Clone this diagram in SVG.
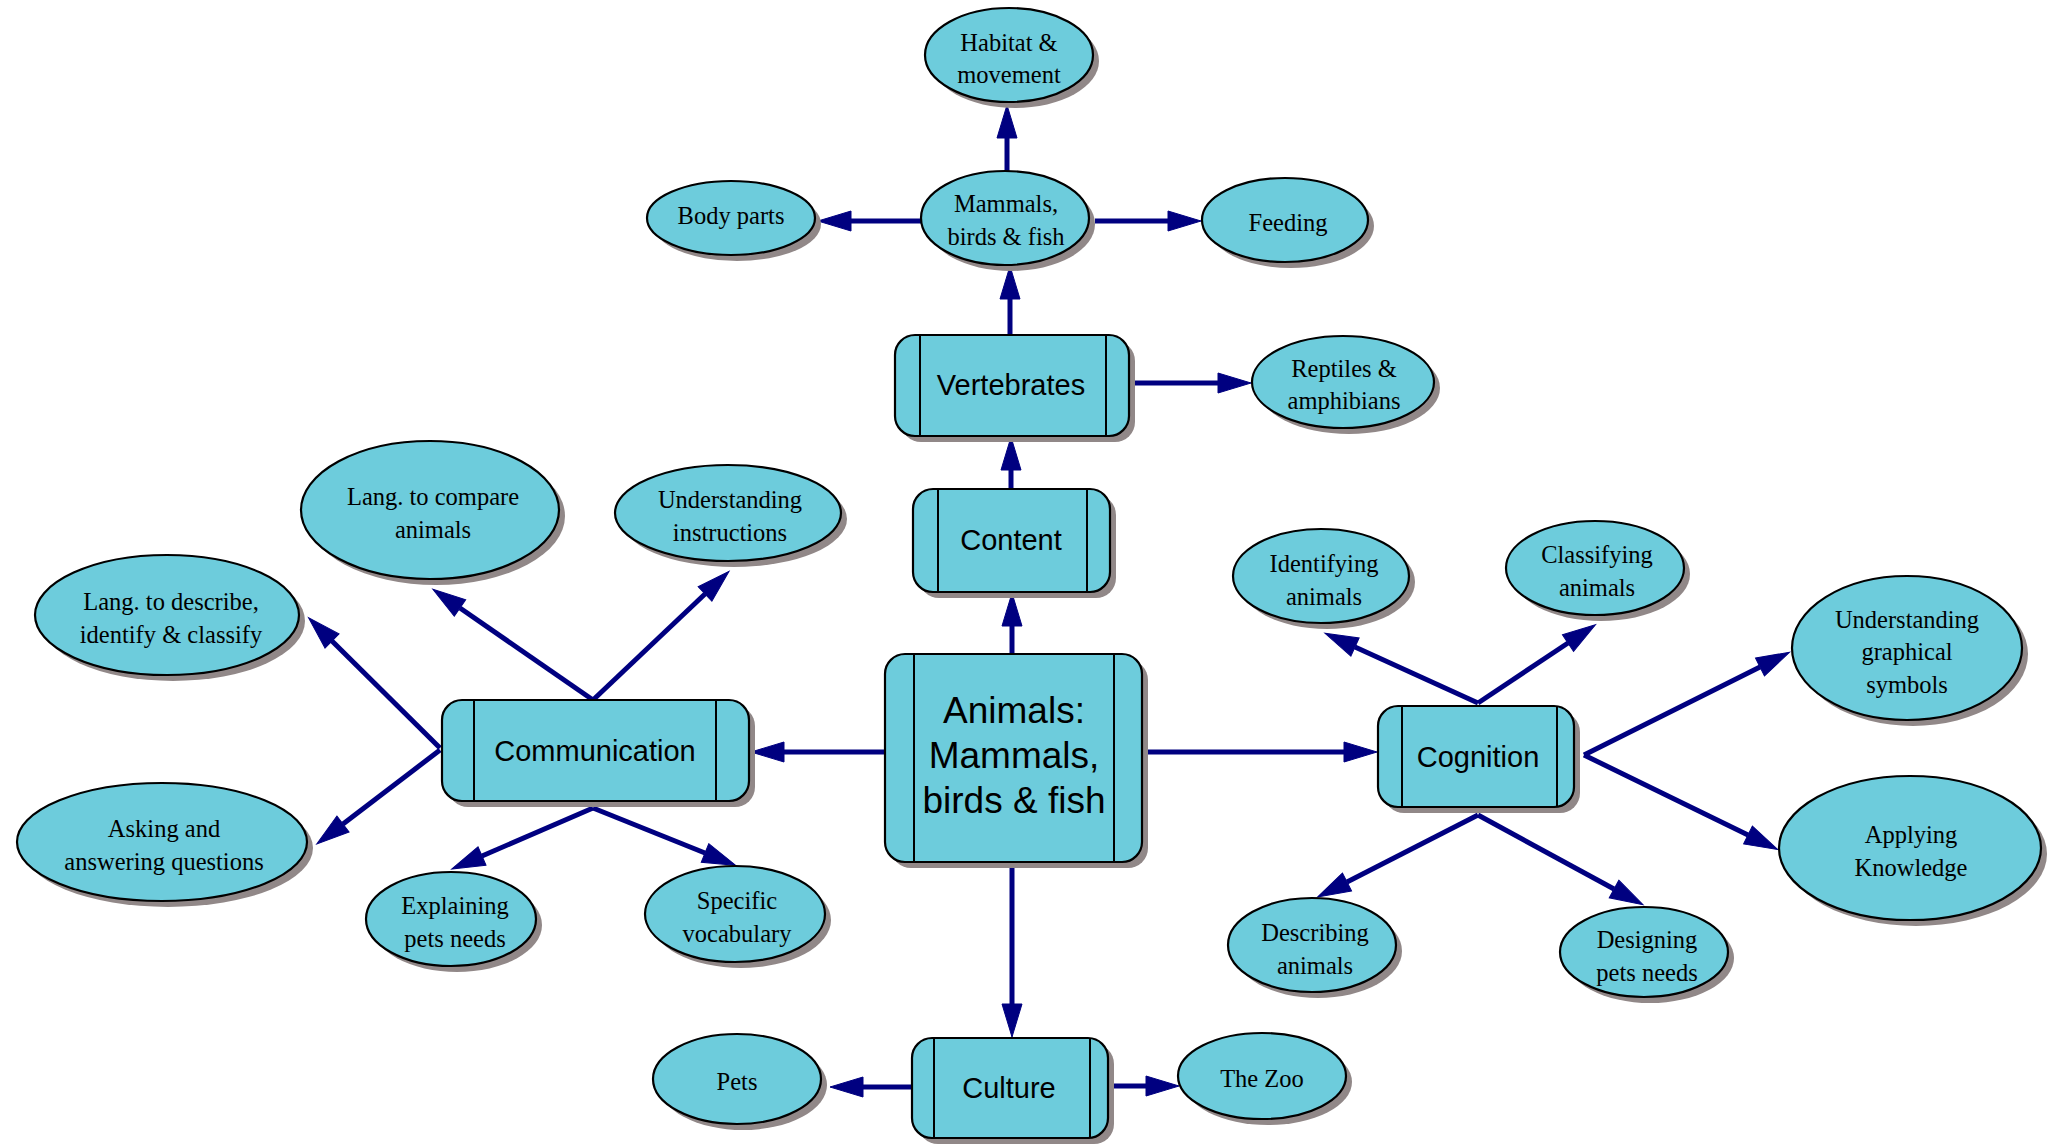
<svg xmlns="http://www.w3.org/2000/svg" width="2052" height="1145" viewBox="0 0 2052 1145">
<style>
.sh{fill:#918888;stroke:none}
.nd{fill:#6dccdc;stroke:#000;stroke-width:2.2}
.ln{stroke:#000;stroke-width:2}
.bt{font-family:"Liberation Sans",Arial,sans-serif;font-size:29px;fill:#000;text-anchor:middle}
.mt{font-family:"Liberation Sans",Arial,sans-serif;font-size:37px;fill:#000;text-anchor:middle}
.et{font-family:"Liberation Serif","Times New Roman",serif;font-size:24.5px;fill:#000;text-anchor:middle}
.e{stroke:#000080;stroke-width:5;fill:none}
</style>
<defs>
<marker id="ah" markerUnits="userSpaceOnUse" markerWidth="36" markerHeight="24" refX="1" refY="12" orient="auto">
<path d="M1,2 L34,12 L1,22 z" fill="#000080" stroke="#000080" stroke-width="1"/>
</marker>
</defs>
<g id="connectors">
<line class="e" x1="1012" y1="654" x2="1012" y2="626" marker-end="url(#ah)"/>
<line class="e" x1="1011" y1="489" x2="1011" y2="470" marker-end="url(#ah)"/>
<line class="e" x1="1010" y1="335" x2="1010" y2="299" marker-end="url(#ah)"/>
<line class="e" x1="1007" y1="171" x2="1007" y2="138" marker-end="url(#ah)"/>
<line class="e" x1="1095" y1="221" x2="1168" y2="221" marker-end="url(#ah)"/>
<line class="e" x1="921" y1="221" x2="851" y2="221" marker-end="url(#ah)"/>
<line class="e" x1="1135" y1="383" x2="1218" y2="383" marker-end="url(#ah)"/>
<line class="e" x1="885" y1="752" x2="784" y2="752" marker-end="url(#ah)"/>
<line class="e" x1="1148" y1="752" x2="1344" y2="752" marker-end="url(#ah)"/>
<line class="e" x1="1012" y1="868" x2="1012" y2="1004" marker-end="url(#ah)"/>
<line class="e" x1="912" y1="1087" x2="863" y2="1087" marker-end="url(#ah)"/>
<line class="e" x1="1113" y1="1086" x2="1146" y2="1086" marker-end="url(#ah)"/>
<line class="e" x1="593" y1="700" x2="460" y2="608" marker-end="url(#ah)"/>
<line class="e" x1="593" y1="700" x2="705" y2="594" marker-end="url(#ah)"/>
<line class="e" x1="440" y1="748" x2="332" y2="641" marker-end="url(#ah)"/>
<line class="e" x1="440" y1="750" x2="343" y2="824" marker-end="url(#ah)"/>
<line class="e" x1="593" y1="808" x2="482" y2="856" marker-end="url(#ah)"/>
<line class="e" x1="593" y1="808" x2="705" y2="853" marker-end="url(#ah)"/>
<line class="e" x1="1478" y1="703" x2="1355" y2="647" marker-end="url(#ah)"/>
<line class="e" x1="1478" y1="703" x2="1568" y2="643" marker-end="url(#ah)"/>
<line class="e" x1="1584" y1="755" x2="1760" y2="667" marker-end="url(#ah)"/>
<line class="e" x1="1584" y1="755" x2="1748" y2="835" marker-end="url(#ah)"/>
<line class="e" x1="1478" y1="815" x2="1347" y2="882" marker-end="url(#ah)"/>
<line class="e" x1="1478" y1="815" x2="1614" y2="889" marker-end="url(#ah)"/>
</g>
<g id="main">
<rect class="sh" x="891" y="660" width="257" height="208" rx="20"/>
<rect class="nd" x="885" y="654" width="257" height="208" rx="20"/>
<line class="ln" x1="914" y1="654" x2="914" y2="862"/><line class="ln" x1="1114" y1="654" x2="1114" y2="862"/>
<text class="mt" x="1014" y="723">Animals:</text>
<text class="mt" x="1014" y="768">Mammals,</text>
<text class="mt" x="1014" y="813">birds &amp; fish</text>
</g>
<g id="content">
<rect class="sh" x="919" y="495" width="197" height="103" rx="20"/>
<rect class="nd" x="913" y="489" width="197" height="103" rx="20"/>
<line class="ln" x1="938" y1="489" x2="938" y2="592"/><line class="ln" x1="1087" y1="489" x2="1087" y2="592"/>
<text class="bt" x="1011" y="550">Content</text>
</g>
<g id="vertebrates">
<rect class="sh" x="901" y="341" width="234" height="101" rx="20"/>
<rect class="nd" x="895" y="335" width="234" height="101" rx="20"/>
<line class="ln" x1="920" y1="335" x2="920" y2="436"/><line class="ln" x1="1106" y1="335" x2="1106" y2="436"/>
<text class="bt" x="1011" y="395">Vertebrates</text>
</g>
<g id="communication">
<rect class="sh" x="448" y="706" width="307" height="101" rx="20"/>
<rect class="nd" x="442" y="700" width="307" height="101" rx="20"/>
<line class="ln" x1="474" y1="700" x2="474" y2="801"/><line class="ln" x1="716" y1="700" x2="716" y2="801"/>
<text class="bt" x="595" y="761">Communication</text>
</g>
<g id="cognition">
<rect class="sh" x="1384" y="712" width="196" height="101" rx="20"/>
<rect class="nd" x="1378" y="706" width="196" height="101" rx="20"/>
<line class="ln" x1="1402" y1="706" x2="1402" y2="807"/><line class="ln" x1="1557" y1="706" x2="1557" y2="807"/>
<text class="bt" x="1478" y="767">Cognition</text>
</g>
<g id="culture">
<rect class="sh" x="918" y="1044" width="196" height="100" rx="20"/>
<rect class="nd" x="912" y="1038" width="196" height="100" rx="20"/>
<line class="ln" x1="934" y1="1038" x2="934" y2="1138"/><line class="ln" x1="1090" y1="1038" x2="1090" y2="1138"/>
<text class="bt" x="1009" y="1098">Culture</text>
</g>
<g id="habitat">
<ellipse class="sh" cx="1015" cy="61" rx="84" ry="47"/><ellipse class="nd" cx="1009" cy="55" rx="84" ry="47"/>
<text class="et" x="1009" y="51">Habitat &amp;</text><text class="et" x="1009" y="83">movement</text>
</g>
<g id="mammals">
<ellipse class="sh" cx="1011" cy="224" rx="84" ry="47"/><ellipse class="nd" cx="1005" cy="218" rx="84" ry="47"/>
<text class="et" x="1006" y="212">Mammals,</text><text class="et" x="1006" y="245">birds &amp; fish</text>
</g>
<g id="feeding">
<ellipse class="sh" cx="1291" cy="226" rx="83" ry="42"/><ellipse class="nd" cx="1285" cy="220" rx="83" ry="42"/>
<text class="et" x="1288" y="231">Feeding</text>
</g>
<g id="bodyparts">
<ellipse class="sh" cx="737" cy="224" rx="84" ry="37"/><ellipse class="nd" cx="731" cy="218" rx="84" ry="37"/>
<text class="et" x="731" y="224">Body parts</text>
</g>
<g id="reptiles">
<ellipse class="sh" cx="1349" cy="388" rx="91" ry="46"/><ellipse class="nd" cx="1343" cy="382" rx="91" ry="46"/>
<text class="et" x="1344" y="377">Reptiles &amp;</text><text class="et" x="1344" y="409">amphibians</text>
</g>
<g id="langcompare">
<ellipse class="sh" cx="436" cy="516" rx="129" ry="69"/><ellipse class="nd" cx="430" cy="510" rx="129" ry="69"/>
<text class="et" x="433" y="505">Lang. to compare</text><text class="et" x="433" y="538">animals</text>
</g>
<g id="instructions">
<ellipse class="sh" cx="734" cy="519" rx="113" ry="48"/><ellipse class="nd" cx="728" cy="513" rx="113" ry="48"/>
<text class="et" x="730" y="508">Understanding</text><text class="et" x="730" y="541">instructions</text>
</g>
<g id="langdescribe">
<ellipse class="sh" cx="173" cy="621" rx="132" ry="60"/><ellipse class="nd" cx="167" cy="615" rx="132" ry="60"/>
<text class="et" x="171" y="610">Lang. to describe,</text><text class="et" x="171" y="643">identify &amp; classify</text>
</g>
<g id="asking">
<ellipse class="sh" cx="168" cy="848" rx="145" ry="59"/><ellipse class="nd" cx="162" cy="842" rx="145" ry="59"/>
<text class="et" x="164" y="837">Asking and</text><text class="et" x="164" y="870">answering questions</text>
</g>
<g id="explaining">
<ellipse class="sh" cx="457" cy="925" rx="85" ry="47"/><ellipse class="nd" cx="451" cy="919" rx="85" ry="47"/>
<text class="et" x="455" y="914">Explaining</text><text class="et" x="455" y="947">pets needs</text>
</g>
<g id="vocabulary">
<ellipse class="sh" cx="741" cy="920" rx="90" ry="48"/><ellipse class="nd" cx="735" cy="914" rx="90" ry="48"/>
<text class="et" x="737" y="909">Specific</text><text class="et" x="737" y="942">vocabulary</text>
</g>
<g id="identifying">
<ellipse class="sh" cx="1327" cy="582" rx="88" ry="47"/><ellipse class="nd" cx="1321" cy="576" rx="88" ry="47"/>
<text class="et" x="1324" y="572">Identifying</text><text class="et" x="1324" y="605">animals</text>
</g>
<g id="classifying">
<ellipse class="sh" cx="1601" cy="574" rx="89" ry="47"/><ellipse class="nd" cx="1595" cy="568" rx="89" ry="47"/>
<text class="et" x="1597" y="563">Classifying</text><text class="et" x="1597" y="596">animals</text>
</g>
<g id="graphical">
<ellipse class="sh" cx="1913" cy="654" rx="115" ry="72"/><ellipse class="nd" cx="1907" cy="648" rx="115" ry="72"/>
<text class="et" x="1907" y="628">Understanding</text><text class="et" x="1907" y="660">graphical</text><text class="et" x="1907" y="693">symbols</text>
</g>
<g id="applying">
<ellipse class="sh" cx="1916" cy="854" rx="131" ry="72"/><ellipse class="nd" cx="1910" cy="848" rx="131" ry="72"/>
<text class="et" x="1911" y="843">Applying</text><text class="et" x="1911" y="876">Knowledge</text>
</g>
<g id="describing">
<ellipse class="sh" cx="1318" cy="951" rx="84" ry="47"/><ellipse class="nd" cx="1312" cy="945" rx="84" ry="47"/>
<text class="et" x="1315" y="941">Describing</text><text class="et" x="1315" y="974">animals</text>
</g>
<g id="designing">
<ellipse class="sh" cx="1650" cy="958" rx="84" ry="45"/><ellipse class="nd" cx="1644" cy="952" rx="84" ry="45"/>
<text class="et" x="1647" y="948">Designing</text><text class="et" x="1647" y="981">pets needs</text>
</g>
<g id="pets">
<ellipse class="sh" cx="743" cy="1085" rx="84" ry="45"/><ellipse class="nd" cx="737" cy="1079" rx="84" ry="45"/>
<text class="et" x="737" y="1090">Pets</text>
</g>
<g id="zoo">
<ellipse class="sh" cx="1268" cy="1082" rx="84" ry="43"/><ellipse class="nd" cx="1262" cy="1076" rx="84" ry="43"/>
<text class="et" x="1262" y="1087">The Zoo</text>
</g>
</svg>
